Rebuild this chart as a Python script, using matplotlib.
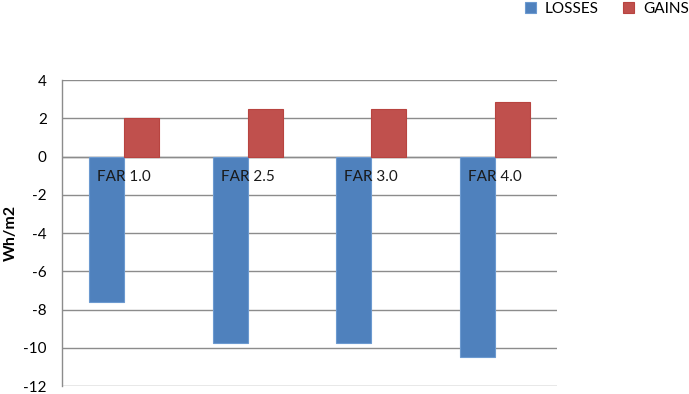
import matplotlib
matplotlib.use("Agg")
import matplotlib.pyplot as plt
import numpy as np

categories = ["FAR 1.0", "FAR 2.5", "FAR 3.0", "FAR 4.0"]
losses = [-7.6, -9.75, -9.75, -10.5]
gains = [2.0, 2.5, 2.5, 2.85]
yticks = [4, 2, 0, -2, -4, -6, -8, -10, -12]

plt.rcParams['font.family'] = ['Lato', 'DejaVu Sans']

fig = plt.figure(figsize=(6.89, 3.94), dpi=100)
ax = fig.add_axes([62/689, 1-386/394, (557-62)/689, (386-80)/394])

x = np.arange(len(categories))
w = 0.283
b1 = ax.bar(x - w/2, losses, w, color="#4F81BD", edgecolor="#6C9AD0", linewidth=0.8, label="LOSSES", zorder=3)
b2 = ax.bar(x + w/2, gains, w, color="#C0504D", edgecolor="#B84440", linewidth=0.8, label="GAINS", zorder=3)

ax.set_xlim(-0.5, len(categories) - 0.5)
ax.set_ylim(-12, 4)
ax.set_yticks(yticks)
ax.set_yticklabels([str(t) for t in yticks], fontsize=11)
ax.tick_params(axis='y', length=0, pad=11)
ax.set_xticks([])
ax.yaxis.grid(True, color="#8C8C8C", linewidth=1.0, zorder=0)
ax.set_axisbelow(True)
for s in ['top', 'right', 'bottom']:
    ax.spines[s].set_visible(False)
ax.spines['left'].set_color("#8C8C8C")
ax.spines['left'].set_linewidth(1.0)
ax.axhline(0, color="#8C8C8C", linewidth=1.0, zorder=2)

for i, c in enumerate(categories):
    ax.annotate(c, xy=(i, 0), xytext=(0, -15), textcoords='offset points',
                ha='center', va='center', fontsize=11, color="#1a1a1a", zorder=5)

fig.text(11/689, 1-233/394, "Wh/m2", rotation=90, ha='center', va='center',
         fontsize=11.5, fontweight='bold')

fig.legend(handles=[b1, b2], labels=["LOSSES", "GAINS"], loc='upper right',
           bbox_to_anchor=(1.02, 1.03), ncol=2, frameon=False, fontsize=11,
           handlelength=0.7, handleheight=0.7, columnspacing=1.6, handletextpad=0.6)

fig.savefig("out.png", dpi=100)
